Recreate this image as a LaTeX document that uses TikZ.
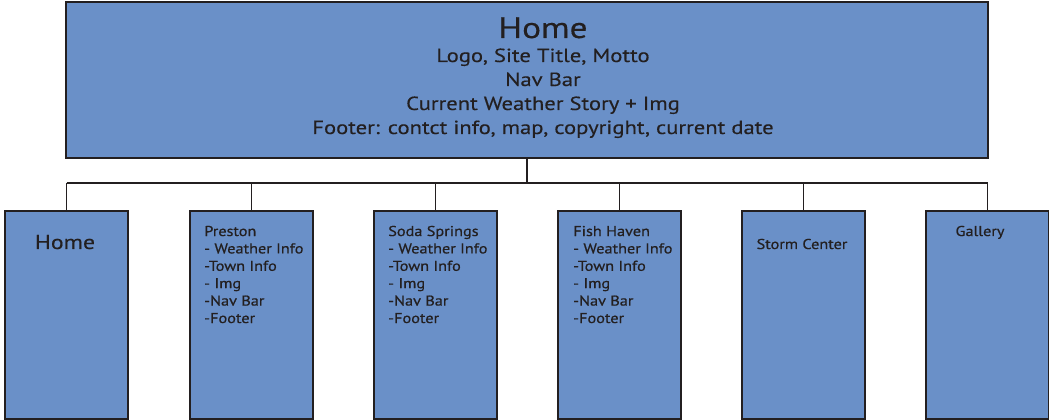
\documentclass[tikz,border=0pt]{standalone}
\usepackage{fontspec}
\setmainfont{PT Sans}[FakeStretch=1.19, FakeBold=0.3]
\newfontfamily\listfont{PT Sans}[FakeStretch=1.14, FakeBold=0.6]
\usetikzlibrary{positioning}
\definecolor{pageblue}{RGB}{106,144,200}
\definecolor{ink}{RGB}{35,31,32}
\tikzset{
	page/.style={rectangle, draw=ink, line width=1.6pt, fill=pageblue,
		inner sep=0pt, anchor=north west, minimum width=92.25pt, minimum height=156pt},
	link/.style={draw=ink, line width=1.3pt},
	pagetext/.style={inner sep=0pt, align=left, anchor=base west, text=ink,
		font=\listfont\fontsize{10.7}{13.05}\selectfont},
}

\begin{document}
\begin{tikzpicture}[x=0.75pt, y=-0.75pt]
	\useasboundingbox (0,0) rectangle (1049,420);
	% top level page
	\node[page, minimum width=691.5pt, minimum height=117pt] (main) at (65,1) {};
	\node[anchor=base, inner sep=0pt, text=ink, font=\fontsize{22.2}{26}\selectfont] (maintitle) at (543,38) {Home};
	\node[anchor=base, inner sep=0pt, align=center, text=ink, font=\fontsize{14.25}{18}\selectfont] (maincontent) at (543,134)
		{Logo, Site Title, Motto\\Nav Bar\\Current Weather Story + Img\\Footer: contct info, map, copyright, current date};
	% sub pages
	\foreach \x/\n in {4/home,189/preston,373/soda,557/fish,741/storm,925/gallery}{
		\node[page] (\n) at (\x,210) {};
	}
	\coordinate (bus) at (526,183);
	\draw[link] (main.south) -- (main.south |- bus);
	\draw[link] (bus -| home.north) -- (bus -| gallery.north);
	\foreach \n in {home,preston,soda,fish,storm,gallery}{
		\draw[link] (bus -| \n.north) -- (\n.north);
	}
	\node[anchor=base, inner sep=0pt, text=ink, font=\fontsize{15}{18}\selectfont] (hometext) at (65,249) {Home};
	\node[pagetext] (prestontext) at (204,323) {Preston\\- Weather Info\\-Town Info\\- Img\\-Nav Bar\\-Footer};
	\node[pagetext] (sodatext) at (388,323) {Soda Springs\\- Weather Info\\-Town Info\\- Img\\-Nav Bar\\-Footer};
	\node[pagetext] (fishtext) at (573,323) {Fish Haven\\- Weather Info\\-Town Info\\- Img\\-Nav Bar\\-Footer};
	\node[pagetext, anchor=base] (stormtext) at (802,249) {Storm Center};
	\node[pagetext, anchor=base] (gallerytext) at (980,236) {Gallery};
\end{tikzpicture}
\end{document}
